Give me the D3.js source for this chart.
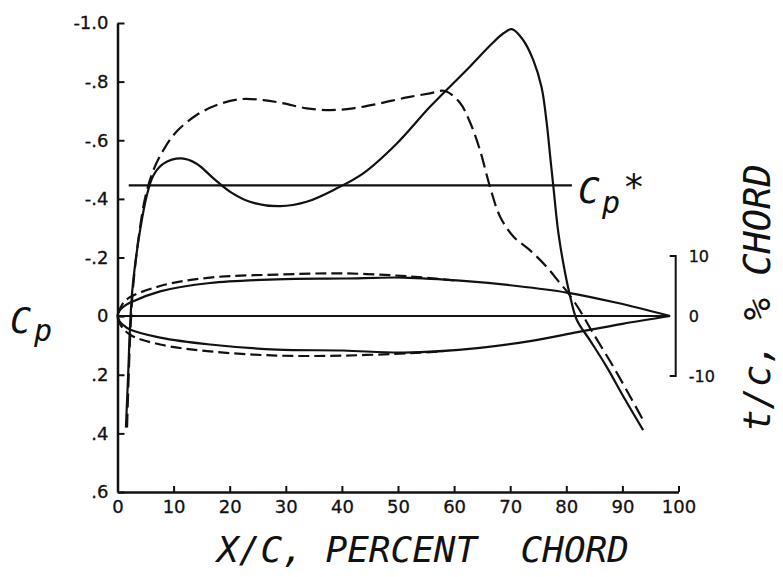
<!DOCTYPE html>
<html>
<head>
<meta charset="utf-8">
<script src="https://cdn.jsdelivr.net/npm/d3@7"></script>
<style>
    body { margin: 0; background: #fff; }
    #chart { width: 783px; height: 577px; }
    text { font-family: 'DejaVu Sans', sans-serif; fill: #111; }
    .lettering { font-family: 'DejaVu Sans Mono', monospace; font-style: italic; white-space: pre; }
</style>
</head>
<body>
<div id="chart"></div>
<script>
// pressure distributions, x/c in percent chord
const solidCpX = [1.5, 1.9, 2.2, 2.6, 3.1, 4.0, 5.2, 6.4, 8.2, 11.4, 14.1, 17.1, 20.1, 23.6, 29.0, 33.7, 39.1, 43.8, 49.8, 55.7, 62.8, 66.5, 68.8, 70.3, 72.3, 74.1, 75.6, 76.5, 77.1, 77.7, 78.6, 79.8, 80.7, 81.9, 84.2, 87.2, 90.2, 93.7];
const solidCp = [0.38, 0.2, 0.05, -0.08, -0.17, -0.29, -0.41, -0.48, -0.52, -0.538, -0.52, -0.47, -0.424, -0.39, -0.375, -0.39, -0.436, -0.487, -0.589, -0.714, -0.851, -0.925, -0.965, -0.979, -0.942, -0.874, -0.78, -0.66, -0.55, -0.441, -0.282, -0.146, -0.066, 0.014, 0.082, 0.173, 0.275, 0.389];

const dashedCpX = [1.7, 2.0, 2.3, 2.7, 3.2, 4.0, 5.0, 6.4, 8.2, 10.5, 14.1, 17.7, 21.8, 26.0, 29.6, 33.7, 37.9, 42.0, 46.8, 51.6, 55.7, 58.4, 61.1, 62.8, 64.6, 66.4, 68.2, 70.6, 73.5, 76.5, 78.9, 80.4, 82.4, 84.8, 88.4, 91.4, 93.7];
const dashedCp = [0.38, 0.2, 0.05, -0.08, -0.18, -0.3, -0.41, -0.498, -0.567, -0.629, -0.686, -0.72, -0.74, -0.737, -0.726, -0.709, -0.703, -0.709, -0.726, -0.746, -0.76, -0.768, -0.726, -0.663, -0.567, -0.441, -0.339, -0.271, -0.225, -0.168, -0.112, -0.077, -0.02, 0.059, 0.173, 0.275, 0.355];

// airfoil sections, t/c in percent chord
const solidFoilX = [98.5, 89, 80.1, 71.2, 62.2, 51, 40.2, 28.4, 16.5, 7.6, 2.2, 1.0, 0.3, 0, 0.3, 1.0, 2.2, 7.6, 16.5, 28.4, 40.2, 51, 64.6, 74.1, 82, 90, 98.5];
const solidFoilT = [0, 2.2, 3.9, 5.0, 5.8, 6.4, 6.25, 6.1, 5.5, 4.1, 2.2, 1.5, 0.8, 0, -0.8, -1.5, -2.25, -3.6, -4.75, -5.6, -5.75, -6.1, -5.3, -4.1, -2.7, -1.3, 0];
const dashedFoilX = [60, 52.1, 40.2, 28.4, 16.5, 7.6, 1.6, 0.5, 0.1, 0.5, 2.2, 7.6, 16.5, 28.4, 40.2, 52.1, 58];
const dashedFoilT = [5.95, 6.6, 7.1, 6.9, 6.4, 5.0, 2.75, 1.3, 0, -1.4, -3.1, -4.75, -5.9, -6.6, -6.6, -6.2, -5.9];

const cpStar = -0.446;
const cpStarX = [2, 81];

const xTicks = [0, 10, 20, 30, 40, 50, 60, 70, 80, 90, 100];
const cpTicks = [-1.0, -0.8, -0.6, -0.4, -0.2, 0, 0.2, 0.4, 0.6];
const cpTickLabels = ["-1.0", "-.8", "-.6", "-.4", "-.2", "0", ".2", ".4", ".6"];
const tcTicks = [10, 0, -10];

class PressureVis {
    constructor(element) {
        this.element = element;
        this.initVis();
    }

    initVis() {
        const vis = this;

        vis.svg = d3.select("#" + vis.element)
            .append("svg")
            .attr("width", 783)
            .attr("height", 577);

        vis.x = d3.scaleLinear().domain([0, 100]).range([117.5, 678.5]);
        vis.y = d3.scaleLinear().domain([-1.0, 0.6]).range([23, 492]);
        vis.t = d3.scaleLinear().domain([-10, 10]).range([376, 256]);

        // left Cp axis, ticks pointing inward
        vis.svg.append("g")
            .attr("class", "axis")
            .attr("transform", `translate(${vis.x(0)},0)`)
            .call(d3.axisLeft(vis.y)
                .tickValues(cpTicks)
                .tickFormat((d, i) => cpTickLabels[i])
                .tickSizeInner(-7)
                .tickSizeOuter(0)
                .tickPadding(9));

        // bottom x/c axis
        vis.svg.append("g")
            .attr("class", "axis")
            .attr("transform", `translate(0,${vis.y(0.6)})`)
            .call(d3.axisBottom(vis.x)
                .tickValues(xTicks)
                .tickSizeInner(-6)
                .tickSizeOuter(0)
                .tickPadding(8));

        vis.svg.selectAll(".axis path").style("stroke", "#111").style("stroke-width", 2.5);
        vis.svg.selectAll(".axis line").style("stroke", "#111").style("stroke-width", 2);
        vis.svg.selectAll(".axis text")
            .style("font-size", "18px")
            .style("font-family", "'DejaVu Sans', sans-serif")
            .style("fill", "#111")
            .style("stroke", "#111")
            .style("stroke-width", 0.3);

        // right t/c bracket
        const bx = vis.x(99.5);
        vis.svg.append("path")
            .attr("d", `M${bx - 6},${vis.t(10)}H${bx}V${vis.t(-10)}H${bx - 6}`)
            .style("fill", "none")
            .style("stroke", "#111")
            .style("stroke-width", 2);
        vis.svg.selectAll(".tc-label")
            .data(tcTicks)
            .enter().append("text")
            .attr("class", "tc-label")
            .attr("x", bx + 13)
            .attr("y", d => vis.t(d))
            .attr("dy", "0.35em")
            .style("font-size", "16px")
            .style("stroke", "#111")
            .style("stroke-width", 0.3)
            .text(d => d);

        // chord line
        vis.svg.append("line")
            .attr("x1", vis.x(0)).attr("x2", vis.x(98.5))
            .attr("y1", vis.t(0)).attr("y2", vis.t(0))
            .style("stroke", "#111").style("stroke-width", 2.2);

        // Cp* line
        vis.svg.append("line")
            .attr("x1", vis.x(cpStarX[0])).attr("x2", vis.x(cpStarX[1]))
            .attr("y1", vis.y(cpStar)).attr("y2", vis.y(cpStar))
            .style("stroke", "#111").style("stroke-width", 2.2);

        const cpLine = d3.line()
            .x(d => vis.x(d[0]))
            .y(d => vis.y(d[1]))
            .curve(d3.curveCatmullRom.alpha(0.5));
        const foilLine = d3.line()
            .x(d => vis.x(d[0]))
            .y(d => vis.t(d[1]))
            .curve(d3.curveCatmullRom.alpha(0.5));

        const series = [
            { d: foilLine(d3.zip(solidFoilX, solidFoilT)), dash: null },
            { d: foilLine(d3.zip(dashedFoilX, dashedFoilT)), dash: "11,5" },
            { d: cpLine(d3.zip(solidCpX, solidCp)), dash: null },
            { d: cpLine(d3.zip(dashedCpX, dashedCp)), dash: "14,6" }
        ];

        vis.svg.selectAll(".curve")
            .data(series)
            .enter().append("path")
            .attr("class", "curve")
            .attr("d", s => s.d)
            .style("fill", "none")
            .style("stroke", "#111")
            .style("stroke-width", 2.2)
            .style("stroke-dasharray", s => s.dash);

        vis.addLabels();
    }

    addLabels() {
        const vis = this;

        // Cp* label
        vis.svg.append("text").attr("class", "lettering")
            .attr("x", 578).attr("y", 203)
            .style("font-size", "36px").text("C");
        vis.svg.append("text").attr("class", "lettering")
            .attr("x", 602).attr("y", 213)
            .style("font-size", "30px").text("p");
        vis.svg.append("text").attr("class", "lettering")
            .attr("x", 623).attr("y", 199)
            .style("font-size", "36px").text("*");

        // left axis title
        vis.svg.append("text").attr("class", "lettering")
            .attr("x", 10).attr("y", 333)
            .style("font-size", "35px").text("C");
        vis.svg.append("text").attr("class", "lettering")
            .attr("x", 34).attr("y", 341)
            .style("font-size", "30px").text("p");

        // bottom axis title
        vis.svg.append("text").attr("class", "lettering")
            .attr("x", 423)
            .attr("y", 562)
            .attr("text-anchor", "middle")
            .style("font-size", "36px")
            .text("X/C, PERCENT  CHORD");

        // right axis title
        vis.svg.append("text").attr("class", "lettering")
            .attr("transform", "translate(770,298) rotate(-90)")
            .attr("text-anchor", "middle")
            .style("font-size", "37px")
            .text("t/c, % CHORD");
    }
}

new PressureVis("chart");
</script>
</body>
</html>
